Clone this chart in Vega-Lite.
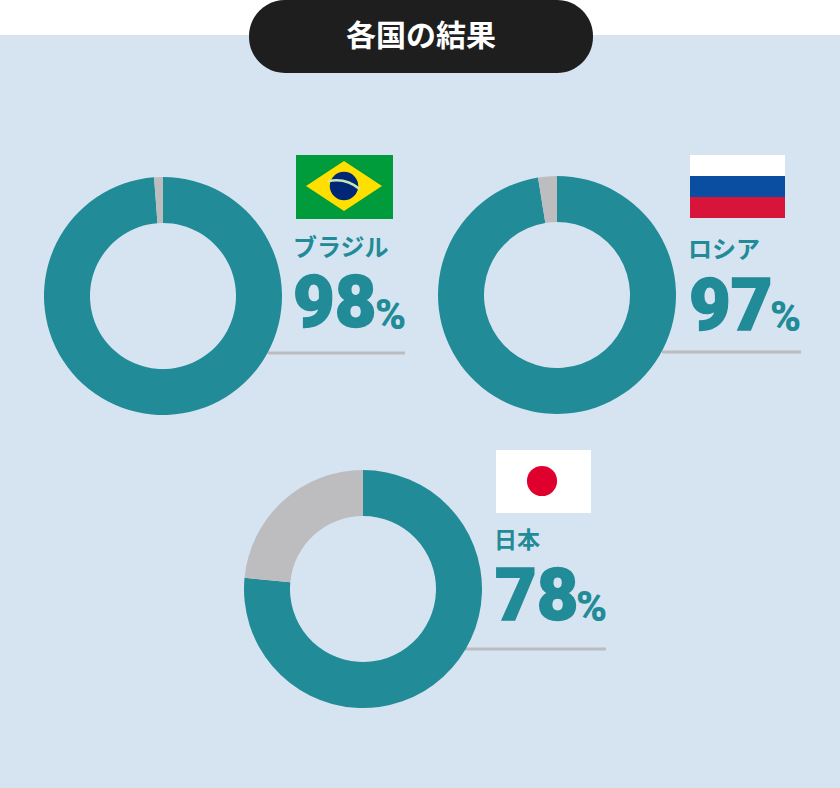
{
  "$schema": "https://vega.github.io/schema/vega-lite/v6.json",
  "background": "#d6e4f1",
  "padding": {"left": 0, "top": 0, "right": 0, "bottom": 80},
  "spacing": 35,
  "datasets": {
    "shares": [
      {"country": "ブラジル", "part": "a_yes", "arc": 98.8, "label": 98},
      {"country": "ブラジル", "part": "b_rest", "arc": 1.2, "label": 2},
      {"country": "ロシア", "part": "a_yes", "arc": 97.45, "label": 97},
      {"country": "ロシア", "part": "b_rest", "arc": 2.55, "label": 3},
      {"country": "日本", "part": "a_yes", "arc": 76.5, "label": 78},
      {"country": "日本", "part": "b_rest", "arc": 23.5, "label": 22}
    ],
    "blank": [{}]
  },
  "vconcat": [
    {
      "width": 840,
      "height": 120,
      "data": {"values": [{"heading": "各国の結果"}]},
      "layer": [
        {
          "mark": {"type": "rect", "fill": "white"},
          "encoding": {
            "x": {"datum": 0, "type": "quantitative", "scale": {"domain": [0, 840], "nice": false}},
            "x2": {"datum": 840},
            "y": {"datum": 0, "type": "quantitative", "scale": {"domain": [120, 0], "nice": false}},
            "y2": {"datum": 35}
          }
        },
        {
          "mark": {"type": "rect", "fill": "#1e1e1e", "cornerRadius": 36},
          "encoding": {
            "x": {"datum": 249, "type": "quantitative"},
            "x2": {"datum": 593},
            "y": {"datum": 0, "type": "quantitative"},
            "y2": {"datum": 73}
          }
        },
        {
          "mark": {"type": "text", "font": "Noto Sans CJK JP", "fontWeight": 700, "fontSize": 30, "color": "white", "align": "center", "baseline": "middle"},
          "encoding": {
            "x": {"datum": 421, "type": "quantitative"},
            "y": {"datum": 37, "type": "quantitative"},
            "text": {"field": "heading"}
          }
        }
      ]
    },
    {
      "bounds": "flush",
      "spacing": 68,
      "hconcat": [
        {
          "width": 326,
          "height": 238,
          "data": {"name": "shares"},
          "transform": [{"filter": "datum.country == 'ブラジル'"}],
          "layer": [
            {
              "mark": {"type": "rule", "color": "#bcbcbe", "strokeWidth": 3},
              "transform": [{"filter": "datum.part == 'a_yes'"}],
              "encoding": {
                "x": {"datum": 268, "type": "quantitative", "scale": {"domain": [0, 326], "nice": false}},
                "x2": {"datum": 405},
                "y": {"datum": 176, "type": "quantitative", "scale": {"domain": [238, 0], "nice": false}}
              }
            },
            {
              "mark": {"type": "arc", "innerRadius": 73, "outerRadius": 119},
              "encoding": {
                "theta": {"field": "arc", "type": "quantitative", "stack": true},
                "order": {"field": "part"},
                "color": {"field": "part", "type": "nominal", "legend": null, "scale": {"domain": ["a_yes", "b_rest"], "range": ["#218b98", "#bdbdc0"]}}
              }
            },
            {
              "data": {"name": "blank"},
              "mark": {"type": "rect", "fill": "#009b3a"},
              "encoding": {
                "x": {"datum": 296, "type": "quantitative"},
                "x2": {"datum": 393},
                "y": {"datum": -22, "type": "quantitative"},
                "y2": {"datum": 42}
              }
            },
            {
              "data": {"name": "blank"},
              "mark": {"type": "point", "shape": "M-1,0L0,-0.66L1,0L0,0.66Z", "filled": true, "fill": "#fedf00", "opacity": 1, "size": 5776},
              "encoding": {
                "x": {"datum": 344, "type": "quantitative"},
                "y": {"datum": 9, "type": "quantitative"}
              }
            },
            {
              "data": {"name": "blank"},
              "mark": {"type": "point", "shape": "circle", "filled": true, "fill": "#002776", "opacity": 1, "size": 810},
              "encoding": {
                "x": {"datum": 344, "type": "quantitative"},
                "y": {"datum": 9, "type": "quantitative"}
              }
            },
            {
              "data": {"name": "blank"},
              "mark": {"type": "point", "shape": "M-1,-0.3Q0.1,-0.55 1,0.2", "filled": false, "stroke": "#c8e6b0", "strokeWidth": 2.5, "opacity": 1, "size": 1024},
              "encoding": {
                "x": {"datum": 344, "type": "quantitative"},
                "y": {"datum": 9, "type": "quantitative"}
              }
            },
            {
              "transform": [{"filter": "datum.part == 'a_yes'"}],
              "mark": {"type": "text", "font": "Noto Sans CJK JP", "fontWeight": 700, "fontSize": 24, "color": "#218b98", "align": "left", "baseline": "middle"},
              "encoding": {
                "x": {"datum": 293, "type": "quantitative"},
                "y": {"datum": 72, "type": "quantitative"},
                "text": {"field": "country"}
              }
            },
            {
              "transform": [{"filter": "datum.part == 'a_yes'"}],
              "mark": {"type": "text", "font": "Roboto", "fontWeight": 900, "fontSize": 72, "color": "#218b98", "stroke": "#218b98", "strokeWidth": 1.5, "align": "left", "baseline": "alphabetic"},
              "encoding": {
                "x": {"datum": 293, "type": "quantitative"},
                "y": {"datum": 150, "type": "quantitative"},
                "text": {"field": "label", "type": "quantitative"}
              }
            },
            {
              "transform": [{"filter": "datum.part == 'a_yes'"}],
              "mark": {"type": "text", "font": "Roboto", "fontWeight": 900, "fontSize": 42, "color": "#218b98", "align": "left", "baseline": "alphabetic"},
              "encoding": {
                "x": {"datum": 375, "type": "quantitative"},
                "y": {"datum": 152, "type": "quantitative"},
                "text": {"value": "%"}
              }
            }
          ]
        },
        {
          "width": 326,
          "height": 236,
          "data": {"name": "shares"},
          "transform": [{"filter": "datum.country == 'ロシア'"}],
          "layer": [
            {
              "mark": {"type": "rule", "color": "#bcbcbe", "strokeWidth": 3},
              "transform": [{"filter": "datum.part == 'a_yes'"}],
              "encoding": {
                "x": {"datum": 268, "type": "quantitative", "scale": {"domain": [0, 326], "nice": false}},
                "x2": {"datum": 407},
                "y": {"datum": 175, "type": "quantitative", "scale": {"domain": [236, 0], "nice": false}}
              }
            },
            {
              "mark": {"type": "arc", "innerRadius": 73, "outerRadius": 119},
              "encoding": {
                "theta": {"field": "arc", "type": "quantitative", "stack": true},
                "order": {"field": "part"},
                "color": {"field": "part", "type": "nominal", "legend": null, "scale": {"domain": ["a_yes", "b_rest"], "range": ["#218b98", "#bdbdc0"]}}
              }
            },
            {
              "data": {"values": [
                {"stripe": "white", "from": -22, "to": -1},
                {"stripe": "blue", "from": -1, "to": 20},
                {"stripe": "red", "from": 20, "to": 41}
              ]},
              "mark": {"type": "rect"},
              "encoding": {
                "x": {"datum": 296, "type": "quantitative"},
                "x2": {"datum": 391},
                "y": {"field": "from", "type": "quantitative"},
                "y2": {"field": "to"},
                "fill": {"field": "stripe", "type": "nominal", "legend": null, "scale": {"domain": ["white", "blue", "red"], "range": ["#ffffff", "#0a4ea2", "#d8143a"]}}
              }
            },
            {
              "transform": [{"filter": "datum.part == 'a_yes'"}],
              "mark": {"type": "text", "font": "Noto Sans CJK JP", "fontWeight": 700, "fontSize": 24, "color": "#218b98", "align": "left", "baseline": "middle"},
              "encoding": {
                "x": {"datum": 294, "type": "quantitative"},
                "y": {"datum": 74, "type": "quantitative"},
                "text": {"field": "country"}
              }
            },
            {
              "transform": [{"filter": "datum.part == 'a_yes'"}],
              "mark": {"type": "text", "font": "Roboto", "fontWeight": 900, "fontSize": 72, "color": "#218b98", "stroke": "#218b98", "strokeWidth": 1.5, "align": "left", "baseline": "alphabetic"},
              "encoding": {
                "x": {"datum": 295, "type": "quantitative"},
                "y": {"datum": 153, "type": "quantitative"},
                "text": {"field": "label", "type": "quantitative"}
              }
            },
            {
              "transform": [{"filter": "datum.part == 'a_yes'"}],
              "mark": {"type": "text", "font": "Roboto", "fontWeight": 900, "fontSize": 42, "color": "#218b98", "align": "left", "baseline": "alphabetic"},
              "encoding": {
                "x": {"datum": 376, "type": "quantitative"},
                "y": {"datum": 154, "type": "quantitative"},
                "text": {"value": "%"}
              }
            }
          ]
        }
      ]
    },
    {
      "width": 726,
      "height": 238,
      "data": {"name": "shares"},
      "transform": [{"filter": "datum.country == '日本'"}],
      "layer": [
        {
          "mark": {"type": "rule", "color": "#bcbcbe", "strokeWidth": 3},
          "transform": [{"filter": "datum.part == 'a_yes'"}],
          "encoding": {
            "x": {"datum": 465, "type": "quantitative", "scale": {"domain": [0, 726], "nice": false}},
            "x2": {"datum": 606},
            "y": {"datum": 179, "type": "quantitative", "scale": {"domain": [238, 0], "nice": false}}
          }
        },
        {
          "mark": {"type": "arc", "innerRadius": 73, "outerRadius": 119},
          "encoding": {
            "theta": {"field": "arc", "type": "quantitative", "stack": true},
            "order": {"field": "part"},
            "color": {"field": "part", "type": "nominal", "legend": null, "scale": {"domain": ["a_yes", "b_rest"], "range": ["#218b98", "#bdbdc0"]}}
          }
        },
        {
          "data": {"name": "blank"},
          "mark": {"type": "rect", "fill": "#ffffff"},
          "encoding": {
            "x": {"datum": 496, "type": "quantitative"},
            "x2": {"datum": 591},
            "y": {"datum": -20, "type": "quantitative"},
            "y2": {"datum": 43}
          }
        },
        {
          "data": {"name": "blank"},
          "mark": {"type": "point", "shape": "circle", "filled": true, "fill": "#e0002d", "opacity": 1, "size": 908},
          "encoding": {
            "x": {"datum": 542, "type": "quantitative"},
            "y": {"datum": 11, "type": "quantitative"}
          }
        },
        {
          "transform": [{"filter": "datum.part == 'a_yes'"}],
          "mark": {"type": "text", "font": "Noto Sans CJK JP", "fontWeight": 700, "fontSize": 23, "color": "#218b98", "align": "left", "baseline": "middle"},
          "encoding": {
            "x": {"datum": 494, "type": "quantitative"},
            "y": {"datum": 71, "type": "quantitative"},
            "text": {"field": "country"}
          }
        },
        {
          "transform": [{"filter": "datum.part == 'a_yes'"}],
          "mark": {"type": "text", "font": "Roboto", "fontWeight": 900, "fontSize": 72, "color": "#218b98", "stroke": "#218b98", "strokeWidth": 1.5, "align": "left", "baseline": "alphabetic"},
          "encoding": {
            "x": {"datum": 495, "type": "quantitative"},
            "y": {"datum": 150, "type": "quantitative"},
            "text": {"field": "label", "type": "quantitative"}
          }
        },
        {
          "transform": [{"filter": "datum.part == 'a_yes'"}],
          "mark": {"type": "text", "font": "Roboto", "fontWeight": 900, "fontSize": 42, "color": "#218b98", "align": "left", "baseline": "alphabetic"},
          "encoding": {
            "x": {"datum": 576, "type": "quantitative"},
            "y": {"datum": 151, "type": "quantitative"},
            "text": {"value": "%"}
          }
        }
      ]
    }
  ],
  "config": {
    "view": {"stroke": null},
    "axis": {"disable": true}
  }
}
